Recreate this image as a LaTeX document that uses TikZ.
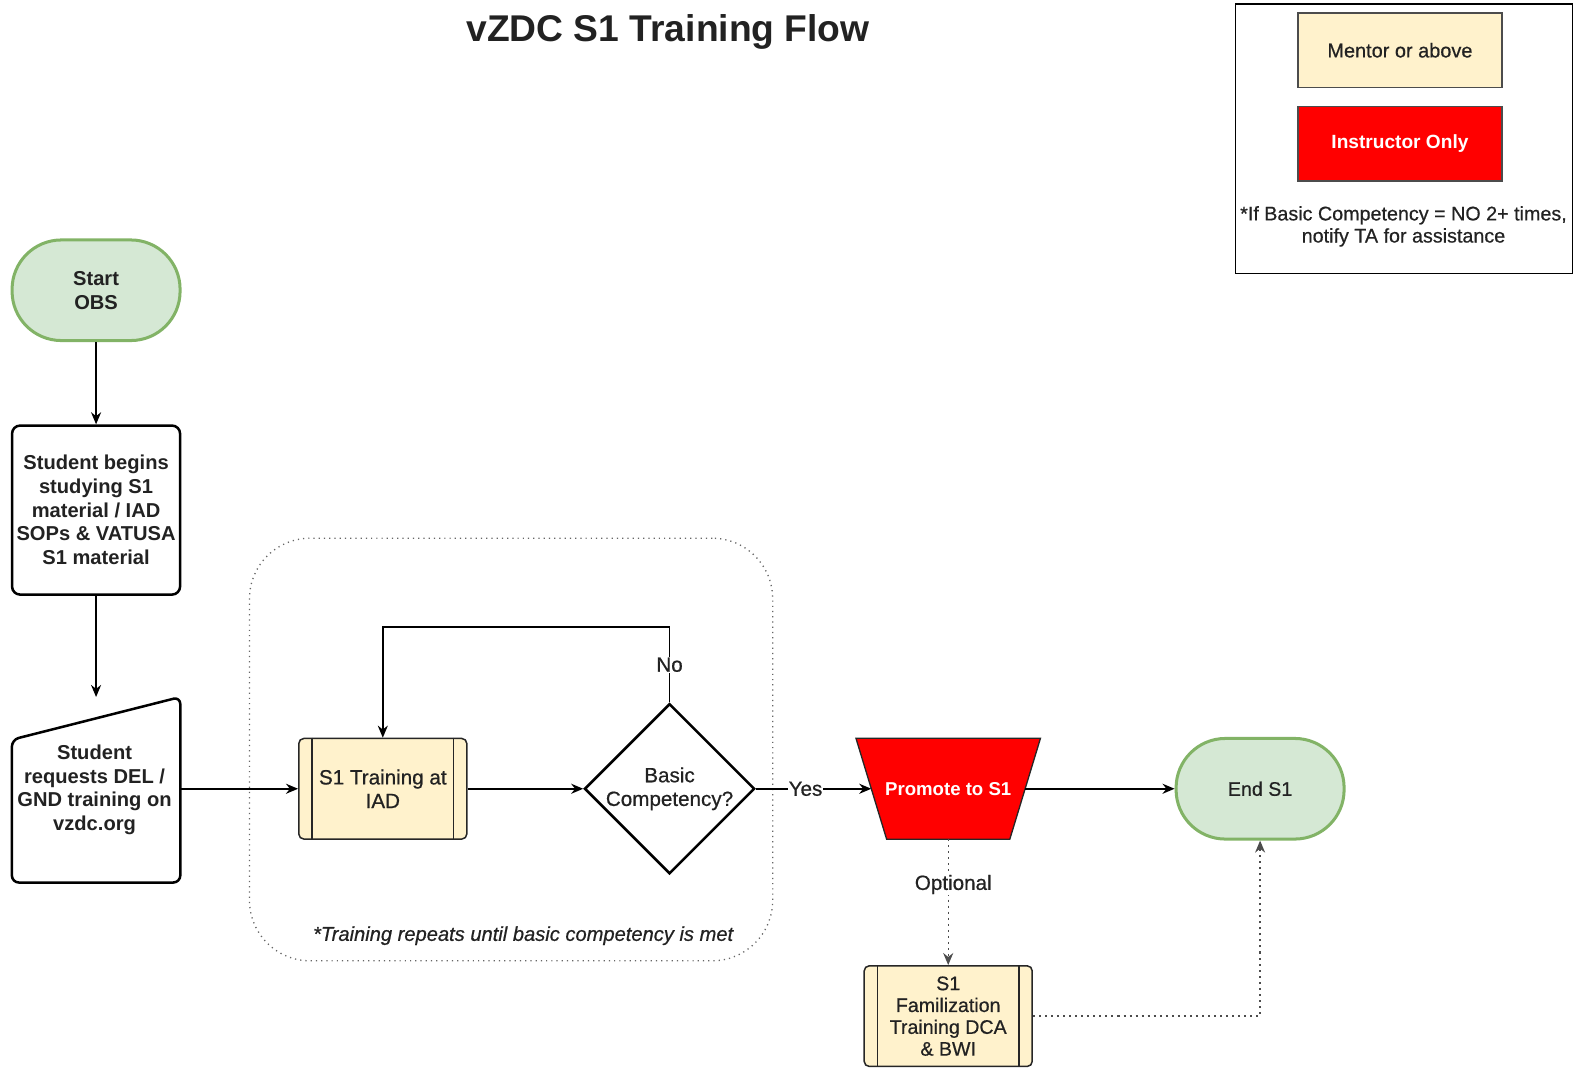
\documentclass[tikz,border=0pt]{standalone}
\usepackage{fontspec}
\setmainfont{Liberation Sans}
\newfontfamily\medfont{Liberation Sans}[FakeBold=0.6]
\usetikzlibrary{shapes.geometric,arrows.meta}
\definecolor{gfill}{HTML}{D5E8D4}
\definecolor{gline}{HTML}{82B366}
\definecolor{yfill}{HTML}{FFF2CC}
\definecolor{txtc}{HTML}{222222}
\tikzset{
  txt/.style={font=\medfont\fontsize{20.5}{23.5}\selectfont, align=center, text=txtc},
  txtb/.style={font=\fontsize{20}{23.5}\selectfont\bfseries, align=center, text=txtc},
  startend/.style={draw=gline, fill=gfill, line width=3pt, rounded corners=49pt,
    minimum width=167pt, minimum height=100pt, inner sep=0pt},
  blackbox/.style={draw=black, line width=2.5pt, rounded corners=8pt,
    minimum width=167pt, minimum height=168pt, inner sep=0pt},
  procbox/.style={draw=black!85, fill=yfill, line width=1.5pt, rounded corners=5pt,
    minimum width=167pt, minimum height=100pt, inner sep=0pt},
  diam/.style={diamond, draw=black, line width=2.5pt, minimum width=167pt,
    minimum height=168pt, inner sep=0pt},
  arr/.style={draw=black, line width=1.6pt, -{Stealth[length=12pt,width=10pt]}},
  darr/.style={draw=black!70, line width=1.3pt, dash pattern=on 2pt off 4pt,
    -{Stealth[length=12pt,width=10pt]}},
  lbl/.style={txt, fill=white, inner sep=1pt},
}
\begin{document}
\begin{tikzpicture}[x=1pt,y=-1pt]
\useasboundingbox (0,0) rectangle (1567.5,1060.6);

% title
\node[font=\fontsize{37}{44}\selectfont\bfseries, text=txtc] (title) at (664,32) {vZDC S1 Training Flow};

% legend
\node[draw=black, line width=1.3pt, minimum width=335pt, minimum height=268pt, inner sep=0pt] (legend) at (1395.5,138) {};
\node[draw=black!70, fill=yfill, line width=1.5pt, minimum width=203pt, minimum height=74pt, txt, font=\medfont\fontsize{19.8}{23.5}\selectfont] (mentor) at (1391.5,50) {Mentor or above};
\node[draw=black!70, fill=red, line width=1.5pt, minimum width=203pt, minimum height=74pt, txtb, font=\fontsize{19}{23.5}\selectfont\bfseries, text=white] (instr) at (1391.5,143) {Instructor Only};
\node[txt, font=\medfont\fontsize{19.6}{22}\selectfont] (note) at (1395,225) {*If Basic Competency = NO 2+ times,\\notify TA for assistance};

% group container
\node[draw=black!60, line width=1.3pt, dash pattern=on 1.2pt off 4pt, rounded corners=60pt,
  minimum width=520pt, minimum height=420pt, inner sep=0pt] (grp) at (508,745) {};
\node[txt, font=\medfont\fontsize{20}{23.5}\selectfont\itshape] (grpnote) at (520,930) {*Training repeats until basic competency is met};

% left column
\node[startend, txtb] (start) at (95.5,288.5) {Start\\OBS};
\node[blackbox, txtb] (study) at (95.5,507) {Student begins\\studying S1\\material / IAD\\SOPs \& VATUSA\\S1 material};
\node[minimum width=167pt, minimum height=184pt, inner sep=0pt] (req) at (95.5,785) {};
\draw[line width=2.5pt, rounded corners=7pt] (req.south west) -- ++(0,-142) -- (req.north east) -- (req.south east) -- cycle;
\node[txtb] (reqtext) at (94,785) {Student\\requests DEL /\\GND training on\\vzdc.org};

\draw[arr] (start.south) -- (study.north);
\draw[arr] (study.south) -- (req.north);

% training loop
\node[procbox, txt] (train) at (380.5,784) {S1 Training at\\IAD};
\draw[line width=1.5pt, black!85] ([xshift=14pt]train.north west) -- ([xshift=14pt]train.south west);
\draw[line width=1.5pt, black!85] ([xshift=-14pt]train.north east) -- ([xshift=-14pt]train.south east);
\node[diam, txt] (bc) at (665.5,784) {Basic\\Competency?};

\draw[arr] (req.east |- train.west) -- (train.west);
\draw[arr] (train.east) -- (bc.west);
\draw[arr] (bc.north) -- node[lbl, midway] {No} ++(0,-75) -| (train.north);

% promote
\node[minimum width=183pt, minimum height=100pt, inner sep=0pt] (prom) at (942.5,784) {};
\draw[draw=black!85, fill=red, line width=1.3pt] (prom.north west) -- (prom.north east)
  -- ([xshift=-30.5pt]prom.south east) -- ([xshift=30.5pt]prom.south west) -- cycle;
\node[txtb, font=\fontsize{18.5}{23.5}\selectfont\bfseries, text=white] (promtext) at (942.5,784) {Promote to S1};
\coordinate (promL) at ([xshift=15.25pt]prom.west);
\coordinate (promR) at ([xshift=-15.25pt]prom.east);

\draw[arr] (bc.east) -- node[lbl, pos=0.43] {Yes} (promL);

\node[startend, txt, font=\medfont\fontsize{19.5}{23.5}\selectfont] (end) at (1252.5,784) {End S1};
\draw[arr] (promR) -- (end.west);

% familiarization
\node[procbox, txt, font=\medfont\fontsize{19.5}{21.7}\selectfont] (fam) at (942.5,1010) {S1\\Familization\\Training DCA\\\& BWI};
\draw[line width=1.5pt, black!85] ([xshift=14pt]fam.north west) -- ([xshift=14pt]fam.south west);
\draw[line width=1.5pt, black!85] ([xshift=-14pt]fam.north east) -- ([xshift=-14pt]fam.south east);

\draw[darr] (prom.south) -- node[lbl, pos=0.36, xshift=5pt] {Optional} (fam.north);
\draw[darr] (fam.east) -| (end.south);
\end{tikzpicture}
\end{document}
